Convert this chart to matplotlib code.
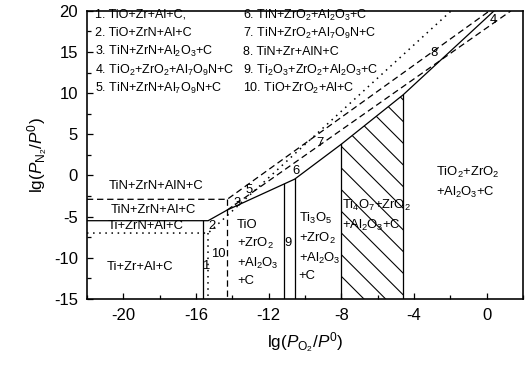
import numpy as np
import matplotlib
matplotlib.use('Agg')
import matplotlib.pyplot as plt

plt.rcParams['font.family'] = ['Liberation Sans', 'DejaVu Sans']
plt.rcParams['mathtext.fontset'] = 'custom'
plt.rcParams['mathtext.rm'] = 'Liberation Sans'
plt.rcParams['mathtext.it'] = 'Liberation Sans:italic'
plt.rcParams['hatch.linewidth'] = 0.6
plt.rcParams['axes.unicode_minus'] = False

# boundary lines (lg pO2, lg pN2)
solid_x = [-22, -15.33, -14.28, -10.57, -8.0, -4.6, 0.4]
solid_y = [-5.5, -5.5, -4.2, -0.45, 3.8, 9.8, 20]
dash_top_x = [-22, -14.28, 0.15]
dash_top_y = [-2.9, -2.9, 20]
dash_low_x = [-14.28, 1.33]
dash_low_y = [-4.2, 20]
dot_x = [-22, -15.33, -1.96]
dot_y = [-7.0, -7.0, 20]
solid_vert = [-15.64, -11.18, -10.57, -8.0, -4.6]
dash_vert = -14.28
dot_vert = -15.33
hatch_range = (-8.0, -4.6)

legend_col1 = ['1. TiO+Zr+Al+C,', '2. TiO+ZrN+Al+C', '3. TiN+ZrN+Al$_2$O$_3$+C',
               '4. TiO$_2$+ZrO$_2$+Al$_7$O$_9$N+C', '5. TiN+ZrN+Al$_7$O$_9$N+C']
legend_col2 = ['6. TiN+ZrO$_2$+Al$_2$O$_3$+C', '7. TiN+ZrO$_2$+Al$_7$O$_9$N+C',
               '8. TiN+Zr+AlN+C', '9. Ti$_2$O$_3$+ZrO$_2$+Al$_2$O$_3$+C',
               '10. TiO+ZrO$_2$+Al+C']
legend_y = [19.5, 17.3, 15.05, 12.8, 10.6]

numbers = [('1', -15.47, -11.05), ('2', -15.1, -6.2), ('3', -13.75, -3.4),
           ('4', 0.35, 18.9), ('5', -13.1, -1.75), ('6', -10.5, 0.6),
           ('7', -9.2, 3.9), ('8', -2.9, 14.9), ('9', -10.93, -8.2),
           ('10', -14.75, -9.5)]

regions = [('TiN+ZrN+AlN+C', -18.2, -1.3, 'center'),
           ('TiN+ZrN+Al+C', -18.35, -4.2, 'center'),
           ('Ti+ZrN+Al+C', -18.75, -6.2, 'center'),
           ('Ti+Zr+Al+C', -19.1, -11.1, 'center'),
           ('TiO\n+ZrO$_2$\n+Al$_2$O$_3$\n+C', -13.75, -9.4, 'left'),
           ('Ti$_3$O$_5$\n+ZrO$_2$\n+Al$_2$O$_3$\n+C', -10.35, -8.65, 'left'),
           ('Ti$_4$O$_7$+ZrO$_2$\n+Al$_2$O$_3$+C', -7.95, -4.85, 'left'),
           ('TiO$_2$+ZrO$_2$\n+Al$_2$O$_3$+C', -2.8, -0.85, 'left')]

fig = plt.figure(figsize=(530 / 130, 375 / 130), dpi=130)
ax = fig.add_axes([0.164, 0.203, 0.823, 0.768])

lw = 0.7
dash = (0, (5, 3))
dot = (0, (1, 3))
ax.plot(solid_x, solid_y, color='k', lw=lw)
ax.plot(dash_top_x, dash_top_y, color='k', lw=lw, ls=dash)
ax.plot(dash_low_x, dash_low_y, color='k', lw=lw, ls=dash)
ax.plot(dot_x, dot_y, color='k', lw=0.85, ls=dot)
ax.plot([dash_vert, dash_vert], [-2.9, -15], color='k', lw=lw, ls=dash)
ax.plot([dot_vert, dot_vert], [-7.0, -15], color='k', lw=0.85, ls=dot)
for xv in solid_vert:
    ax.plot([xv, xv], [-15, np.interp(xv, solid_x, solid_y)], color='k', lw=lw)

hx = np.array(hatch_range)
hy = np.interp(hx, solid_x, solid_y)
ax.fill([hx[0], hx[0], hx[1], hx[1]], [-15, hy[0], hy[1], -15],
        facecolor='none', edgecolor='k', lw=0, hatch='\\\\')

for t, y in zip(legend_col1, legend_y):
    ax.text(-21.55, y, t, fontsize=6.9, va='center', ha='left')
for t, y in zip(legend_col2, legend_y):
    ax.text(-13.4, y, t, fontsize=6.9, va='center', ha='left')

for t, x, y in numbers:
    ax.text(x, y, t, fontsize=7.2, ha='center', va='center')
for t, x, y, ha in regions:
    ax.text(x, y, t, fontsize=7.2, ha=ha, va='center', linespacing=1.45)

ax.set_xlim(-22, 2)
ax.set_ylim(-15, 20)
ax.set_xticks([-20, -16, -12, -8, -4, 0])
ax.set_xticks(np.arange(-22, 2.1, 2), minor=True)
ax.set_yticks([-15, -10, -5, 0, 5, 10, 15, 20])
ax.set_yticks(np.arange(-15, 20.1, 2.5), minor=True)
ax.tick_params(which='both', direction='in', labelsize=9.2, width=0.7)
ax.tick_params(which='major', length=3.5)
ax.tick_params(which='minor', length=2.2)
ax.tick_params(axis='x', pad=5)
ax.tick_params(axis='y', pad=5)
for s in ax.spines.values():
    s.set_linewidth(0.9)

ax.set_xlabel(r'lg($P_{\mathrm{O_2}}/P^0$)', fontsize=9.5, labelpad=4)
ax.set_ylabel(r'lg($P_{\mathrm{N_2}}/P^0$)', fontsize=9.5, labelpad=2)

fig.savefig('out.png', dpi=130)
